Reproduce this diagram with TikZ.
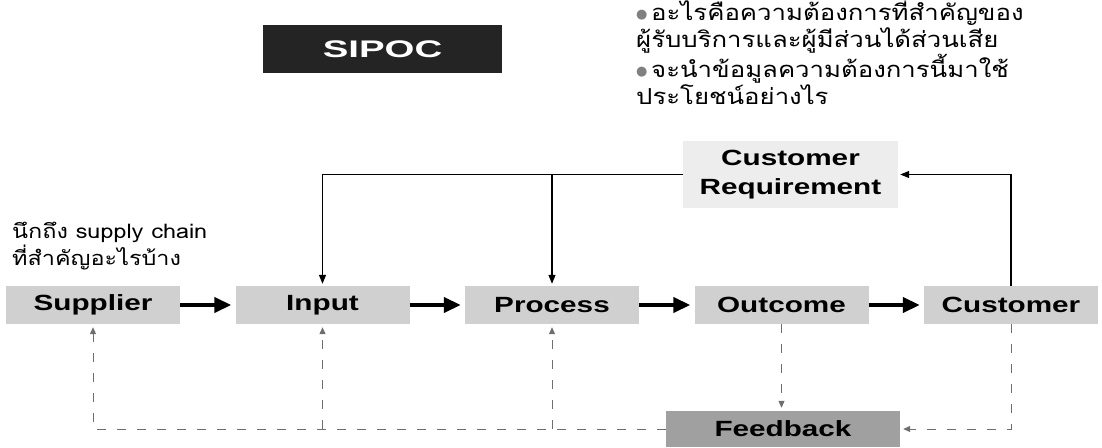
\documentclass[tikz,border=0pt]{standalone}
\usepackage{fontspec}
\usepackage{graphicx}
\setmainfont{Liberation Sans}
\newfontfamily\thaifont[Script=Thai,FakeStretch=1.17]{Loma}
\newfontfamily\symfont{DejaVu Sans}
\usetikzlibrary{arrows.meta,positioning}
\definecolor{boxgray}{HTML}{D0D0D0}
\definecolor{reqgray}{HTML}{EDEDED}
\definecolor{fbgray}{HTML}{A0A0A0}
\definecolor{fbline}{HTML}{6E6E6E}
\definecolor{sipocbk}{HTML}{242424}
\newcommand\wide[2][1.35]{\scalebox{#1}[1]{#2}}
\newcommand\blt{\raisebox{2pt}{\symfont\fontsize{13}{13}\selectfont\textcolor{gray}{●}}\,}
\begin{document}
\begin{tikzpicture}[x=1pt,y=1pt,
  stage/.style={fill=boxgray, minimum width=174pt, minimum height=38pt, inner sep=0pt,
    font=\fontsize{22}{26}\selectfont\bfseries},
  flow/.style={line width=4pt, -{Triangle[length=17pt,width=15pt]}, shorten >=4pt},
  req/.style={line width=1.2pt, -{Triangle[length=9pt,width=7pt]}, shorten >=2pt},
  fb/.style={line width=1pt, fbline, dash pattern=on 9pt off 11pt,
    -{Triangle[length=7pt,width=6pt]}, shorten >=3pt},
  note/.style={font=\thaifont\fontsize{22}{27}\selectfont, align=left, inner sep=0pt}]
\useasboundingbox (0,0) rectangle (1102,447);
\matrix [column sep=55.5pt, inner sep=0pt] at (552,142)
{
\node[stage] (S) {\wide{Supplier}}; & \node[stage] (I) {\wide{Input}}; &
\node[stage] (P) {\wide{Process}}; & \node[stage] (O) {\wide{Outcome}}; &
\node[stage] (C) {\wide{Customer}}; \\
};
\node [fill=sipocbk, text=white, minimum width=239pt, minimum height=48pt,
  font=\fontsize{24}{24}\selectfont\bfseries] (T) at (382.5,398) {\wide[1.6]{SIPOC}};
\node [fill=reqgray, minimum width=215pt, minimum height=67pt, align=center,
  font=\fontsize{22}{29}\selectfont\bfseries] (CR) at (790.5,272.5)
  {\wide{Customer}\\\wide{Requirement}};
\node [stage, fill=fbgray, minimum width=234pt, minimum height=36pt] (F) at (783,18)
  {\wide{Feedback}};
\node [note, anchor=north west] (Q) at (636,449)
  {\blt อะไรคือความต้องการที่สำคัญของ\\ผู้รับบริการและผู้มีส่วนได้ส่วนเสีย\\
   \blt จะนำข้อมูลความต้องการนี้มาใช้\\ประโยชน์อย่างไร};
\node [note, anchor=north west, font=\thaifont\fontsize{20}{27}\selectfont] (L) at (12,225)
  {นึกถึง supply chain\\ที่สำคัญอะไรบ้าง};
% main chain
\draw [flow] (S) -- (I);
\draw [flow] (I) -- (P);
\draw [flow] (P) -- (O);
\draw [flow] (O) -- (C);
% requirement loop
\draw [req] (C.north) |- (CR.east);
\draw [req] (CR.west) -| (I.north);
\draw [req] (P.north |- CR.west) -- (P.north);
% feedback loop
\draw [fb] (C.south) |- (F.east);
\draw [fb] (O.south) -- (O.south |- F.north);
\draw [fb] (F.west) -| (S.south);
\draw [fb] (I.south |- F.west) -- (I.south);
\draw [fb] (P.south |- F.west) -- (P.south);
\end{tikzpicture}
\end{document}
